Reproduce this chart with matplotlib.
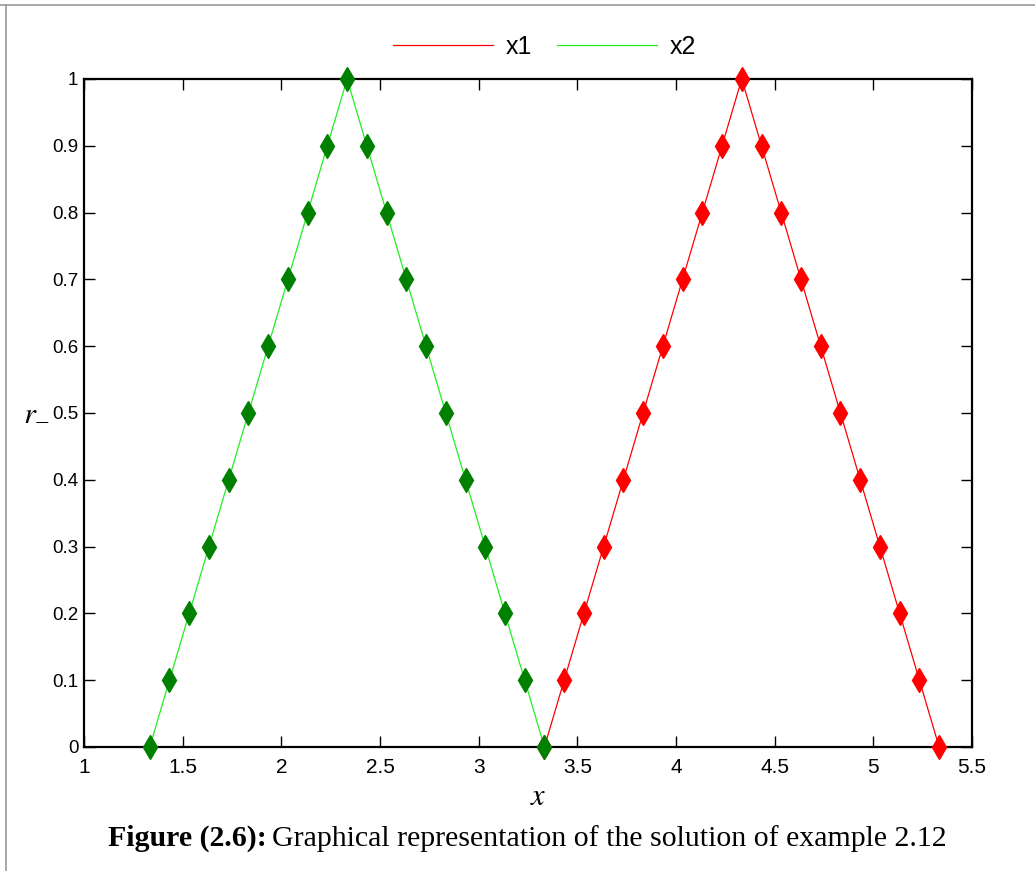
import matplotlib
matplotlib.use("Agg")
import matplotlib.pyplot as plt
from matplotlib.lines import Line2D
from matplotlib import font_manager

# Triangular solution curves
x1_pts = [3.333, 3.433, 3.533, 3.633, 3.733, 3.833, 3.933, 4.033, 4.133, 4.233, 4.333,
          4.433, 4.533, 4.633, 4.733, 4.833, 4.933, 5.033, 5.133, 5.233, 5.333]
x2_pts = [1.333, 1.433, 1.533, 1.633, 1.733, 1.833, 1.933, 2.033, 2.133, 2.233, 2.333,
          2.433, 2.533, 2.633, 2.733, 2.833, 2.933, 3.033, 3.133, 3.233, 3.333]
r_vals = [0.0, 0.1, 0.2, 0.3, 0.4, 0.5, 0.6, 0.7, 0.8, 0.9, 1.0,
          0.9, 0.8, 0.7, 0.6, 0.5, 0.4, 0.3, 0.2, 0.1, 0.0]

x_ticks = [1, 1.5, 2, 2.5, 3, 3.5, 4, 4.5, 5, 5.5]
x_ticklabels = ["1", "1.5", "2", "2.5", "3", "3.5", "4", "4.5", "5", "5.5"]
y_ticks = [0, 0.1, 0.2, 0.3, 0.4, 0.5, 0.6, 0.7, 0.8, 0.9, 1]
y_ticklabels = ["0", "0.1", "0.2", "0.3", "0.4", "0.5", "0.6", "0.7", "0.8", "0.9", "1"]

LINE_RED = "#ff0000"
LINE_GREEN = "#22ee22"
MARK_GREEN = "#008000"

plt.rcParams["mathtext.fontset"] = "stix"
installed = {f.name for f in font_manager.fontManager.ttflist}
tick_font = "Liberation Sans Narrow" if "Liberation Sans Narrow" in installed else "Liberation Sans"

fig = plt.figure(figsize=(10.35, 8.71), dpi=100)
ax = fig.add_axes([0.0812, 0.1424, 0.8580, 0.7669])

l1, = ax.plot(x1_pts, r_vals, color=LINE_RED, lw=0.9, label="x1")
ax.plot(x1_pts, r_vals, ls="none", marker="d", ms=12, color=LINE_RED, mec=LINE_RED,
        clip_on=False, zorder=3)
l2, = ax.plot(x2_pts, r_vals, color=LINE_GREEN, lw=0.9, label="x2")
ax.plot(x2_pts, r_vals, ls="none", marker="d", ms=12, color=MARK_GREEN, mec=MARK_GREEN,
        clip_on=False, zorder=3)

ax.set_xlim(1, 5.5)
ax.set_ylim(0, 1)
ax.set_xticks(x_ticks)
ax.set_xticklabels(x_ticklabels, family=tick_font, fontsize=15)
ax.set_yticks(y_ticks)
ax.set_yticklabels(y_ticklabels, family=tick_font, fontsize=13.5)
ax.tick_params(direction="in", length=8, width=1, top=True, right=True)
ax.tick_params(axis="x", pad=8)
ax.tick_params(axis="y", pad=4)

for spine in ax.spines.values():
    spine.set_linewidth(1.6)
    spine.set_color("black")

fig.text(0.52, 0.085, "$x$", fontsize=22, ha="center", va="center")
fig.text(0.035, 0.528, r"$r_{-}$", fontsize=22, ha="center", va="center")

fig.legend(handles=[l1, l2], loc="center", bbox_to_anchor=(0.526, 0.946),
           ncol=2, frameon=False, handlelength=4.0, handletextpad=0.5,
           columnspacing=1.0, prop={"family": "Liberation Sans", "size": 18})

# caption under the plot
cap_y = 0.037
t1 = fig.text(0.104, cap_y, "Figure (2.6):", family="Liberation Serif",
              fontweight="bold", fontsize=21.5, ha="left", va="center")
fig.canvas.draw()
bb = t1.get_window_extent()
x_next = bb.x1 / fig.bbox.width + 0.005
fig.text(x_next, cap_y, "Graphical representation of the solution of example 2.12",
         family="Liberation Serif", fontsize=21.5, ha="left", va="center")

# thin grey page frame
fig.add_artist(Line2D([0, 1], [1 - 5 / 871, 1 - 5 / 871], transform=fig.transFigure,
                      color="#999999", lw=1.2))
fig.add_artist(Line2D([6 / 1035, 6 / 1035], [0, 1 - 5 / 871], transform=fig.transFigure,
                      color="#999999", lw=1.2))

fig.savefig("out.png", dpi=100, facecolor="white")
